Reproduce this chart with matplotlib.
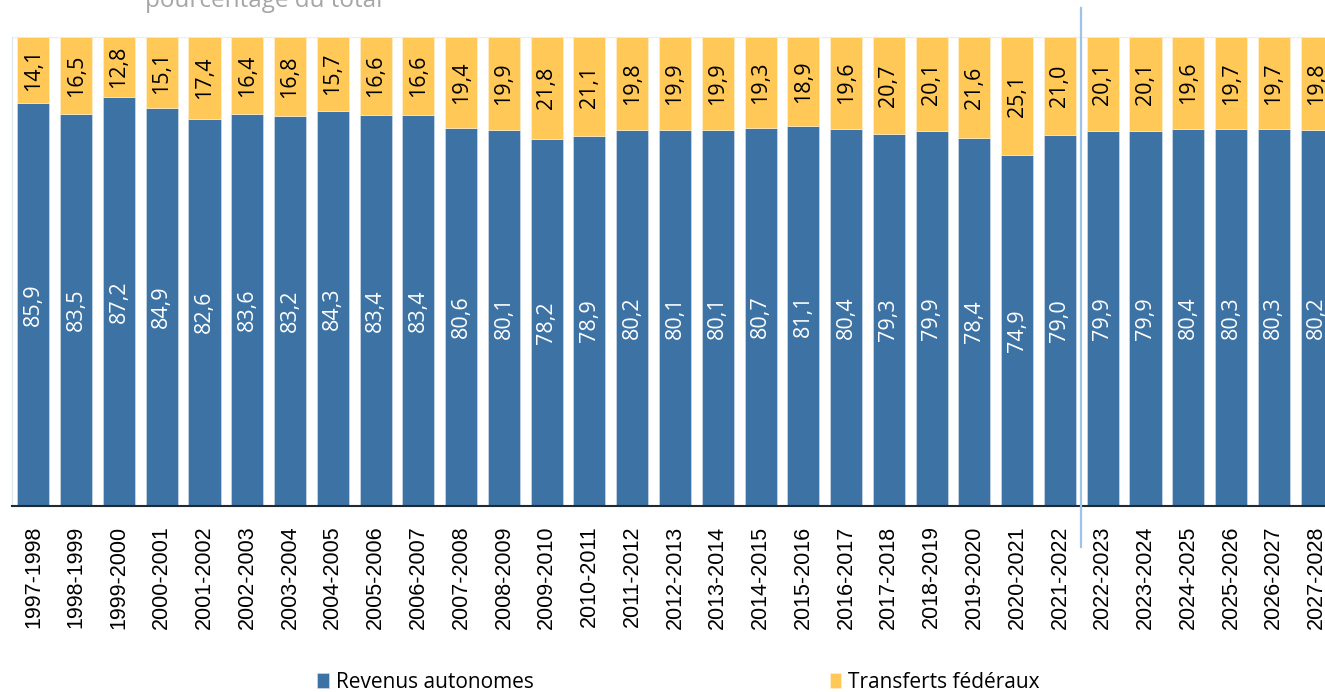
import numpy as np
import matplotlib
matplotlib.use('Agg')
import matplotlib.pyplot as plt
import matplotlib.transforms as mtransforms

# ---------------------------------------------------------------------------
# Données (pourcentage du total)
# ---------------------------------------------------------------------------
annees = ['1997-1998', '1998-1999', '1999-2000', '2000-2001', '2001-2002',
          '2002-2003', '2003-2004', '2004-2005', '2005-2006', '2006-2007',
          '2007-2008', '2008-2009', '2009-2010', '2010-2011', '2011-2012',
          '2012-2013', '2013-2014', '2014-2015', '2015-2016', '2016-2017',
          '2017-2018', '2018-2019', '2019-2020', '2020-2021', '2021-2022',
          '2022-2023', '2023-2024', '2024-2025', '2025-2026', '2026-2027',
          '2027-2028']
revenus_autonomes = [85.9, 83.5, 87.2, 84.9, 82.6, 83.6, 83.2, 84.3, 83.4, 83.4,
                     80.6, 80.1, 78.2, 78.9, 80.2, 80.1, 80.1, 80.7, 81.1, 80.4,
                     79.3, 79.9, 78.4, 74.9, 79.0, 79.9, 79.9, 80.4, 80.3, 80.3,
                     80.2]
transferts_federaux = [14.1, 16.5, 12.8, 15.1, 17.4, 16.4, 16.8, 15.7, 16.6, 16.6,
                       19.4, 19.9, 21.8, 21.1, 19.8, 19.9, 19.9, 19.3, 18.9, 19.6,
                       20.7, 20.1, 21.6, 25.1, 21.0, 20.1, 20.1, 19.6, 19.7, 19.7,
                       19.8]
separation = 24.5  # entre réel (2021-2022) et projections

BLEU = '#3d72a4'
JAUNE = '#ffc857'

fig = plt.figure(figsize=(13.25, 6.92), dpi=100)
ax = fig.add_axes([12 / 1325, 186 / 692, 1326 / 1325, 469 / 692])

x = np.arange(len(annees))
w = 0.75
rev = np.array(revenus_autonomes)
tra = np.array(transferts_federaux)

ax.bar(x, rev, w, color=BLEU, edgecolor='#d9e3ee', linewidth=0.4,
       label='Revenus autonomes', zorder=2)
ax.bar(x, tra, w, bottom=rev, color=JAUNE, edgecolor='#fff3d6', linewidth=0.4,
       label='Transferts fédéraux', zorder=2)

# étiquettes de données
for i in range(len(x)):
    ax.text(x[i], rev[i] / 2, f'{rev[i]:.1f}'.replace('.', ','), rotation=90,
            ha='center', va='center', color='white', fontsize=15.5,
            family='Open Sans', zorder=3)
    ax.text(x[i], rev[i] + tra[i] / 2, f'{tra[i]:.1f}'.replace('.', ','),
            rotation=90, ha='center', va='center', color='black', fontsize=15.5,
            family='Open Sans', zorder=3)

ax.set_xlim(-0.5, len(annees) - 0.5)
ax.set_ylim(0, 100)
ax.set_yticks([])
ax.set_xticks(x)
ax.set_xticklabels(annees, rotation=90, fontsize=15.5, family='Liberation Sans')
ax.tick_params(axis='x', length=0, pad=14)

ax.axhline(100, color='#eeeeee', linewidth=1, zorder=1)
for s in ['top', 'right']:
    ax.spines[s].set_visible(False)
ax.spines['left'].set_color('#dde6f0')
ax.spines['bottom'].set_color('#1f2a33')
ax.spines['bottom'].set_linewidth(1.5)

# ligne verticale de séparation
trans = mtransforms.blended_transform_factory(ax.transData, ax.transAxes)
ax.plot([separation, separation], [1.062, -0.087], color='#9dc3e6',
        linewidth=1.6, transform=trans, clip_on=False, zorder=4)

fig.text(264 / 1325, 1 - 7 / 692, 'pourcentage du total', ha='center',
         va='baseline', fontsize=17.5, color='#a6a6a6', family='Open Sans')

fig.legend(loc='center', bbox_to_anchor=(0.512, 1 - 682 / 692), ncol=2,
           frameon=False, handlelength=0.55, handleheight=0.75,
           handletextpad=0.35, columnspacing=14.2,
           prop={'family': 'Open Sans', 'size': 15})

fig.savefig('out.png', dpi=100)
